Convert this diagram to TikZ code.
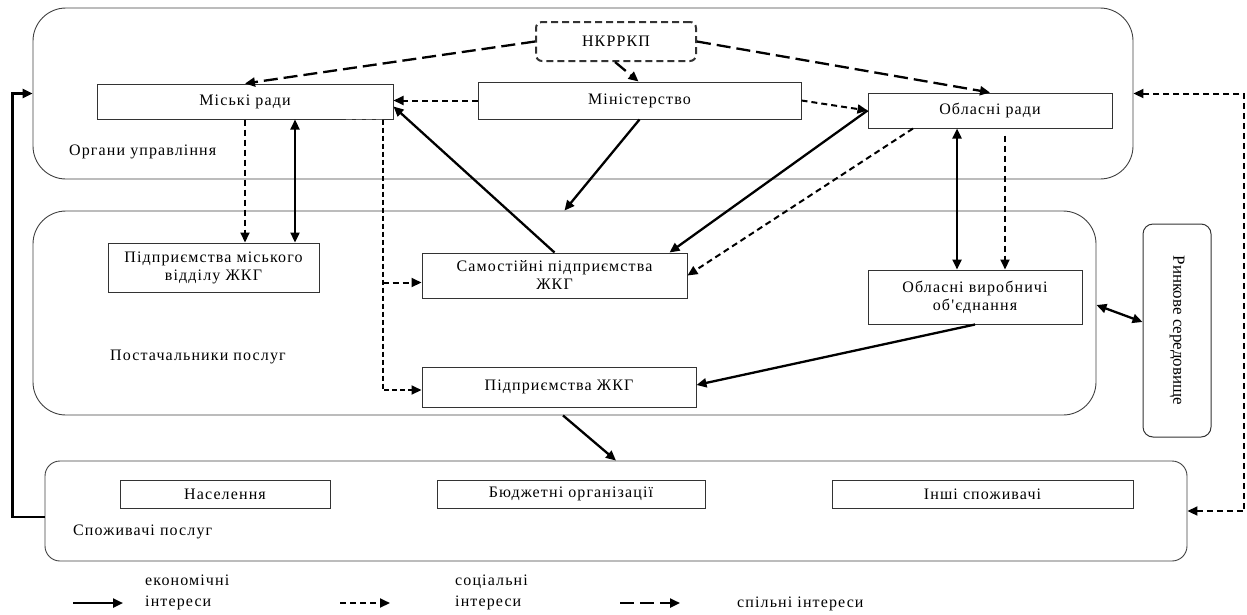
\documentclass[tikz,border=0pt]{standalone}
\usepackage{fontspec}
\newfontfamily\lsfont{Liberation Serif}[LetterSpace=7]
\newfontfamily\plainfont{Liberation Serif}
\usetikzlibrary{arrows.meta}

\tikzset{
  grp/.style={draw=black!75, line width=0.9pt, rounded corners=33pt, inner sep=0pt},
  box/.style={draw=black!80, line width=1pt, inner sep=0pt, align=center,
    font=\lsfont\fontsize{16}{18}\selectfont},
  lbl/.style={anchor=west, inner sep=0pt, align=left,
    font=\lsfont\fontsize{16}{21}\selectfont},
  econ/.style={-{Triangle[length=10pt,width=9pt]}, line width=2.3pt},
  econboth/.style={{Triangle[length=10pt,width=9pt]}-{Triangle[length=10pt,width=9pt]}, line width=2.3pt},
  soc/.style={-{Triangle[length=10pt,width=9pt]}, line width=2pt, dash pattern=on 6pt off 4pt},
  joint/.style={-{Triangle[length=10pt,width=9pt]}, line width=2.3pt, dash pattern=on 14pt off 6pt},
}

\begin{document}
\begin{tikzpicture}[x=1pt,y=-1pt]

\useasboundingbox (0,0) rectangle (1247,614);

% groups
\node[grp, minimum width=1100pt, minimum height=171pt] (grpA) at (583,93.5) {};
\node[grp, minimum width=1063pt, minimum height=204pt] (grpB) at (564.5,313) {};
\node[grp, rounded corners=15pt, minimum width=1142pt, minimum height=100pt] (grpC) at (616,511) {};
\node[box, rounded corners=10pt, minimum width=68pt, minimum height=213pt] (rynok) at (1177,330.5) {};
\node[rotate=-90, font=\plainfont\fontsize{17}{19}\selectfont] at (rynok.center) {Ринкове середовище};

\node[lbl] (lblA) at (69,152) {Органи управління};
\node[lbl] (lblB) at (110,357) {Постачальники послуг};
\node[lbl] (lblC) at (73,532) {Споживачі послуг};

% organy upravlinnia
\node[box, dash pattern=on 7pt off 4pt, line width=2pt, rounded corners=6pt,
  minimum width=160pt, minimum height=39pt] (nkr) at (616,41.5) {НКРРКП};
\node[box, minimum width=296pt, minimum height=35pt] (miski) at (245,101.5) {Міські ради};
\node[box, minimum width=323pt, minimum height=37pt] (minist) at (639.5,100.5) {Міністерство};
\node[box, minimum width=244pt, minimum height=35pt] (oblrady) at (990,110.5) {Обласні ради};

% postachalnyky
\node[box, minimum width=211pt, minimum height=49pt] (pmv) at (213.5,267.5) {Підприємства міського\\відділу ЖКГ};
\node[box, minimum width=265pt, minimum height=45pt] (samost) at (554.5,275.5) {Самостійні підприємства\\ЖКГ};
\node[box, minimum width=274pt, minimum height=40pt] (pzhkg) at (559,387) {Підприємства ЖКГ};
\node[box, minimum width=214pt, minimum height=54pt] (ovo) at (975,297) {Обласні виробничі\\об'єднання};

% spozhyvachi
\node[box, minimum width=210pt, minimum height=28pt] (nasel) at (225,494) {Населення};
\node[box, minimum width=268pt, minimum height=28pt] (budzh) at (571,494) {Бюджетні організації};
\node[box, minimum width=301pt, minimum height=28pt] (inshi) at (982.5,494) {Інші споживачі};

% spilni interesy
\draw[joint] (nkr.west) -- (miski.north);
\draw[joint] (nkr.east) -- (oblrady.north);
\draw[joint] ([xshift=-1pt]nkr.south) -- ([xshift=-1pt]minist.north);

% sotsialni interesy
\draw[soc] (minist.west) -- (minist.west -| miski.east);
\draw[soc] (minist.east) -- (oblrady.west);
\draw[soc] (miski.south) -- (miski.south |- pmv.north);
\coordinate (mtop) at ([xshift=-11pt]miski.south east);
\draw[soc, -, line width=0.8pt, black!60] ([xshift=-48pt]miski.south east) -- (mtop);
\draw[soc, dash pattern=on 5pt off 3pt] (mtop) |- ([yshift=-3pt]pzhkg.west);
\draw[soc] (mtop |- samost.west) ++(0,7) -- ([yshift=-7pt]samost.west);
\draw[soc] ([xshift=-77pt]oblrady.south) -- (samost.east);
\draw[soc] ([xshift=15pt,yshift=-7pt]oblrady.south) -- ([xshift=15pt]oblrady.south |- ovo.north);
\draw[soc, {Triangle[length=10pt,width=9pt]}-{Triangle[length=10pt,width=9pt]}]
  (grpC.east) -- ++(57,0) |- (grpA.east);

% ekonomichni interesy
\draw[econ] (minist.south) -- (grpB.north);
\draw[econ] (samost.north) -- ([yshift=-5pt]miski.east);
\draw[econ] (oblrady.west) -- ([xshift=-18pt]samost.north east);
\draw[econboth] ([xshift=50pt]miski.south) -- ([xshift=50pt]miski.south |- pmv.north);
\draw[econboth] ([xshift=-33pt]oblrady.south) -- ([xshift=-33pt]oblrady.south |- ovo.north);
\draw[econ] (ovo.south) -- ([yshift=2pt]pzhkg.east);
\draw[econ] ([xshift=-1.5pt]grpB.south) -- (grpC.north);
\draw[econboth] ([yshift=8pt]grpB.east) -- ([yshift=8.5pt]rynok.west);
\draw[econ] ([yshift=-6pt]grpC.west) -- ++(-32,0) |- (grpA.west);

% legend
\coordinate (lg1) at (73,603);
\coordinate (lg2) at (340,603);
\coordinate (lg3) at (620,603);
\draw[econ] (lg1) -- ++(50,0);
\draw[soc] (lg2) -- ++(50,0);
\draw[joint] (lg3) -- ++(60,0);
\node[lbl] at (145,592) {економічні\\інтереси};
\node[lbl] at (455,592) {соціальні\\інтереси};
\node[lbl] at (737,604) {спільні інтереси};

\end{tikzpicture}
\end{document}
